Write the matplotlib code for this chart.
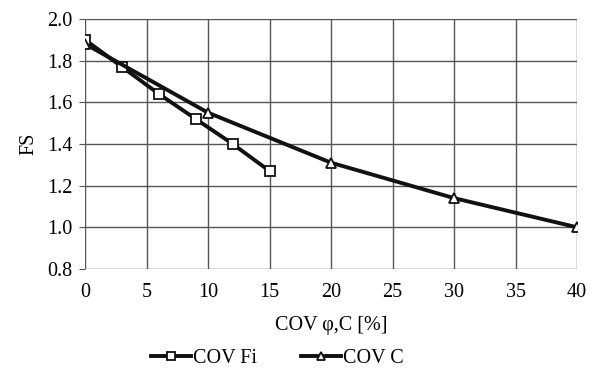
import matplotlib
matplotlib.use("Agg")
import matplotlib.pyplot as plt

# values
cov_fi_x = [0, 3, 6, 9, 12, 15]
cov_fi_y = [1.90, 1.77, 1.64, 1.52, 1.40, 1.27]

cov_c_x = [0, 10, 20, 30, 40]
cov_c_y = [1.88, 1.55, 1.31, 1.14, 1.00]

x_ticks = [0, 5, 10, 15, 20, 25, 30, 35, 40]
y_ticks = [0.8, 1.0, 1.2, 1.4, 1.6, 1.8, 2.0]

plt.rcParams['font.family'] = ['Liberation Serif', 'DejaVu Serif']
plt.rcParams['font.size'] = 14.5

fig = plt.figure(figsize=(6.03, 3.71), dpi=100)
ax = fig.add_axes([0.141, 0.275, 0.816, 0.674])

ax.plot(cov_fi_x, cov_fi_y, color='#111111', lw=2.8, marker='s', ms=7.5,
        mfc='white', mec='#111111', mew=1.3, label='COV Fi', zorder=3)
ax.plot(cov_c_x, cov_c_y, color='#111111', lw=2.8, marker='^', ms=7.5,
        mfc='white', mec='#111111', mew=1.3, label='COV C', zorder=3)

ax.set_xlim(0, 40)
ax.set_ylim(0.8, 2.0)
ax.set_xticks(x_ticks)
ax.set_yticks(y_ticks)
ax.set_yticklabels([f"{v:.1f}" for v in y_ticks])
ax.grid(True, color='#555555', lw=1.0)
ax.set_axisbelow(True)
for s in ax.spines.values():
    s.set_visible(False)
ax.tick_params(axis='x', length=0, pad=10)
ax.tick_params(axis='y', length=4, color='#555555', pad=5)

ax.set_xlabel('COV φ,C [%]', labelpad=10)
ax.set_ylabel('FS', labelpad=6)

fig.legend(loc='lower center', bbox_to_anchor=(0.46, -0.025), ncol=2,
           frameon=False, handlelength=2.0, handletextpad=0.1,
           columnspacing=2.2, borderaxespad=0.2, markerscale=0.75)

fig.savefig('out.png', dpi=100)
